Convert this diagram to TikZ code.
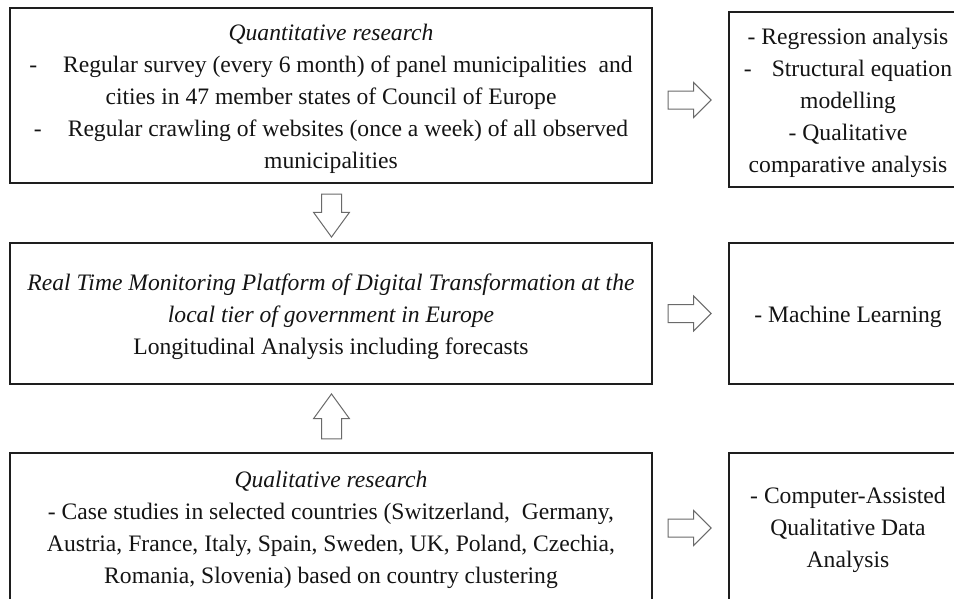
\documentclass[tikz,border=0pt]{standalone}
\usepackage{fontspec}
\setmainfont{Liberation Serif}
\usetikzlibrary{shapes.arrows,calc}

\definecolor{inkcol}{HTML}{141414}
\definecolor{framecol}{HTML}{1E1E1E}
\definecolor{arrowcol}{HTML}{6A6A6A}

\tikzset{
  panel/.style={draw=framecol, line width=1.1pt, fill=white, inner sep=0pt},
  mainpanel/.style={panel, minimum width=642pt},
  sidepanel/.style={panel, minimum width=238pt},
  paneltext/.style={align=center, text=inkcol, inner sep=0pt, yshift=-3pt,
    font=\fontsize{23.6}{32}\selectfont},
  flowarrow/.style={single arrow, draw=arrowcol, fill=white, line width=1pt,
    inner xsep=0pt, inner ysep=8.5pt, minimum width=0pt,
    single arrow head extend=8.5pt, minimum height=43pt, anchor=tail},
  vflowarrow/.style={flowarrow, inner ysep=9.5pt, single arrow head extend=8pt,
    single arrow tip angle=72}
}

\begin{document}
\begin{tikzpicture}[x=1pt, y=-1pt]
  \useasboundingbox (0,0) rectangle (954,598);
  \fill[white] (0,0) rectangle (954,598);

  % left column: research streams and the monitoring platform
  \node[mainpanel, minimum height=175pt] (quant) at (331,95.5) {};
  \node[paneltext] (quant-text) at (quant.center) {%
    \textit{Quantitative research}\\
    -\hspace{26pt}Regular survey (every 6 month) of panel municipalities\ \ and\\
    cities in 47 member states of Council of Europe\\
    -\hspace{26pt}Regular crawling of websites (once a week) of all observed\\
    municipalities};

  \node[mainpanel, minimum height=141pt] (platform) at (331,313.5) {};
  \node[paneltext] (platform-text) at (platform.center) {%
    \textit{Real Time Monitoring Platform of Digital Transformation at the}\\
    \textit{local tier of government in Europe}\\
    Longitudinal Analysis including forecasts};

  \node[mainpanel, minimum height=148pt] (qual) at (331,527) {};
  \node[paneltext] (qual-text) at (qual.center) {%
    \textit{Qualitative research}\\
    - Case studies in selected countries (Switzerland,\ \ Germany,\\
    Austria, France, Italy, Spain, Sweden, UK, Poland, Czechia,\\
    Romania, Slovenia) based on country clustering};

  % right column: analysis methods
  \node[sidepanel, minimum height=175pt] (methods) at (848,99.5) {};
  \node[paneltext] (methods-text) at (methods.center) {%
    - Regression analysis\\
    -\hspace{20pt}Structural equation\\
    modelling\\
    - Qualitative\\
    comparative analysis};

  \node[sidepanel, minimum height=141pt] (ml) at (848,313.5) {};
  \node[paneltext] (ml-text) at (ml.center) {- Machine Learning};

  \node[sidepanel, minimum height=148pt] (caqda) at (848,527) {};
  \node[paneltext] (caqda-text) at (caqda.center) {%
    - Computer-Assisted\\
    Qualitative Data\\
    Analysis};

  % block arrows
  \node[flowarrow] (a1) at ($(quant.east)+(15,4.5)$) {};
  \node[flowarrow] (a2) at ($(platform.east)+(15,0)$) {};
  \node[flowarrow] (a3) at ($(qual.east)+(15,1)$) {};
  \node[vflowarrow, rotate=-90] (down) at ($(quant.south)+(0.5,10)$) {};
  \node[vflowarrow, rotate=90, minimum height=45pt] (up) at ($(qual.north)+(0.5,-13)$) {};
\end{tikzpicture}
\end{document}
